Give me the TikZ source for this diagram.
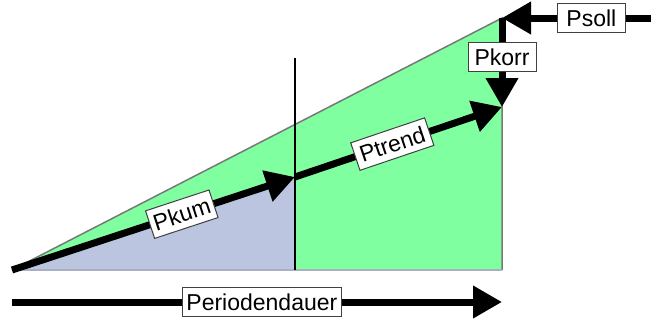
\documentclass[tikz,border=0pt]{standalone}
\usepackage{fontspec}
\setmainfont{Liberation Sans}
\usetikzlibrary{arrows.meta}
\definecolor{areagreen}{RGB}{128,255,160}
\definecolor{areablue}{RGB}{187,197,224}
\definecolor{edgegray}{RGB}{120,120,120}
\tikzset{
  bigarrow/.style={line width=7pt,-{Triangle[length=29pt,width=31pt]}},
  lbl/.style={draw=black!75,line width=1pt,fill=white,inner xsep=4pt,inner ysep=2pt,
    minimum height=29pt,font=\fontsize{23}{27}\selectfont},
}
\begin{document}
\begin{tikzpicture}[x=1pt,y=-1pt]
\useasboundingbox (0,0) rectangle (656,324);
\coordinate (O) at (12,270);
\coordinate (T) at (502,18);
\coordinate (R) at (502,270);
\coordinate (M) at (295,177);
\coordinate (B) at (295,270);
\coordinate (V) at (295,58);
\coordinate (K) at (502,107);
\coordinate (S) at (651,18);
\coordinate (P1) at (12,302);
\coordinate (P2) at (502,302);
% areas
\fill[areagreen] (O) -- (T) -- (R) -- cycle;
\draw[edgegray,line width=1.5pt] (O) -- (T) -- (R);
\fill[areablue] (O) -- (M) -- (B) -- cycle;
\draw[areablue!70!gray,line width=1.5pt] (O) -- (R);
\draw[line width=1.5pt] (V) -- (B);
% arrows
\draw[bigarrow] (O) -- (M) node[lbl,pos=0.6,sloped,minimum width=66pt] (pkum) {Pkum};
\draw[bigarrow] (M) -- (K) node[lbl,pos=0.47,sloped,minimum width=78pt] (ptrend) {Ptrend};
\draw[bigarrow] (T) -- (K) node[lbl,pos=0.44,minimum width=68pt] (pkorr) {Pkorr};
\draw[bigarrow] (S) -- (T) node[lbl,pos=0.40,minimum width=68pt] (psoll) {Psoll};
\draw[bigarrow] (P1) -- (P2) node[lbl,pos=0.51,minimum width=157pt] (pdauer) {Periodendauer};
\end{tikzpicture}
\end{document}
